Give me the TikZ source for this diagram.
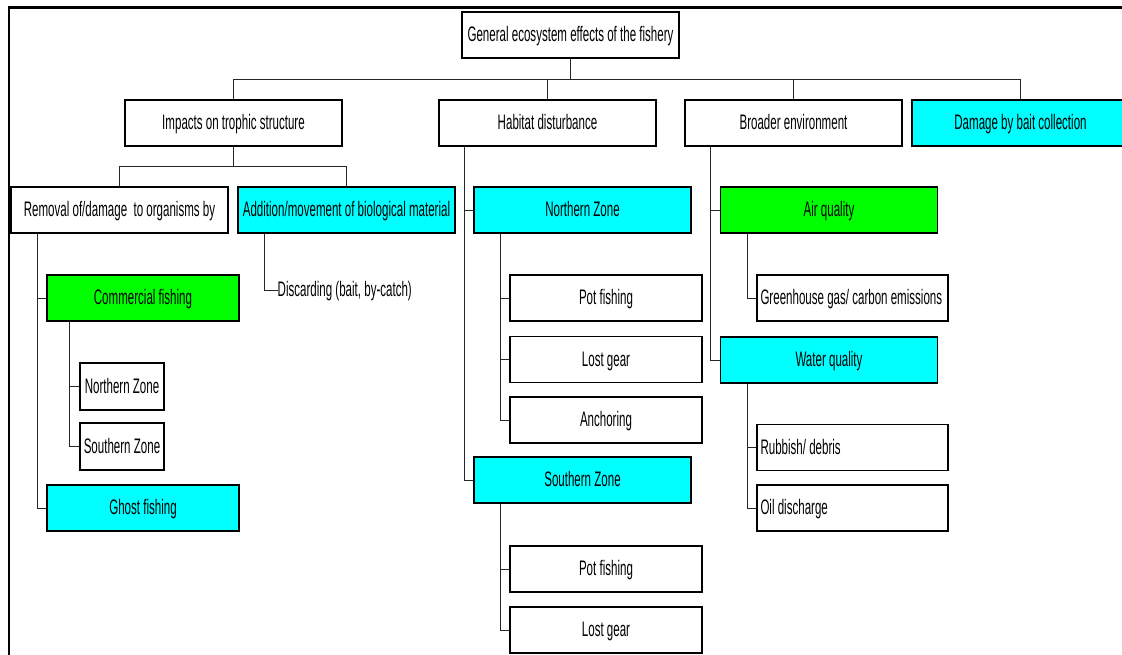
\documentclass[tikz,border=0pt]{standalone}
\usepackage{fontspec}
\setmainfont[FakeStretch=0.55]{Liberation Sans}
\definecolor{cy}{HTML}{00FFFF}
\definecolor{gr}{HTML}{00FF00}
\newcommand{\lbox}[1]{\makebox[184pt][l]{#1}}
\tikzset{
  bx/.style={draw=black, line width=1.3pt, inner sep=0pt, minimum height=46pt, minimum width=217pt, text height=16pt, text depth=3pt, font=\fontsize{21}{24}\selectfont},
  mid/.style={bx, minimum width=192pt},
  sml/.style={bx, minimum width=84pt, minimum height=47pt},
  lft/.style={bx, minimum width=191pt},
  cyb/.style={fill=cy},
  grb/.style={fill=gr},
  con/.style={draw=black!85, line width=0.9pt},
}
\begin{document}
\begin{tikzpicture}[x=1pt,y=-1pt]
\useasboundingbox (0,0) rectangle (1122,655);
\fill[white] (0,0) rectangle (1122,655);
\draw[line width=2.6pt] (9,660) -- (9,7.5) -- (1130,7.5);

% level 0
\node[bx] (root) at (570.5,35) {General ecosystem effects of the fishery};
% level 1
\node[bx] (imp) at (233.5,123) {Impacts on trophic structure};
\node[bx] (hab) at (547.5,123) {Habitat disturbance};
\node[bx] (brd) at (793.5,123) {Broader environment};
\node[bx,cyb] (dmg) at (1020.5,123) {Damage by bait collection};
% level 2
\node[bx] (rem) at (119.5,210) {Removal of/damage\ \ to organisms by};
\node[bx,cyb] (add) at (346.5,210) {Addition/movement of biological material};
\node[bx,cyb] (nz) at (582.5,210) {Northern Zone};
\node[bx,grb] (air) at (829,210) {Air quality};
\node[bx,cyb] (sz) at (582.5,480) {Southern Zone};
\node[bx,cyb] (wq) at (829,360) {Water quality};
% under removal
\node[mid,grb] (com) at (143,298) {Commercial fishing};
\node[mid,cyb] (gho) at (143,508) {Ghost fishing};
\node[sml] (cnz) at (122,386.5) {Northern Zone};
\node[sml] (csz) at (122,446.5) {Southern Zone};
% discarding
\node[inner sep=0pt, anchor=west, text height=16pt, text depth=3pt, font=\fontsize{21}{24}\selectfont] (dis) at (277.5,290) {Discarding (bait, by-catch)};
% habitat children
\node[mid] (pf1) at (606,298) {Pot fishing};
\node[mid] (lg1) at (606,359.5) {Lost gear};
\node[mid] (anc) at (606,420) {Anchoring};
\node[mid] (pf2) at (606,569) {Pot fishing};
\node[mid] (lg2) at (606,630) {Lost gear};
% environment children
\node[lft] (ghg) at (852.5,298) {\lbox{Greenhouse gas/ carbon emissions}};
\node[lft] (rub) at (852.5,447.5) {\lbox{Rubbish/ debris}};
\node[lft] (oil) at (852.5,508) {\lbox{Oil discharge}};

% connectors
\draw[con] (root.south) -- ++(0,21) coordinate (bus);
\draw[con] (bus) -| (imp.north);
\draw[con] (bus) -| (hab.north);
\draw[con] (bus) -| (brd.north);
\draw[con] (bus) -| (dmg.north);
\draw[con] (imp.south) -- ++(0,20) coordinate (bus2);
\draw[con] (bus2) -| (rem.north);
\draw[con] (bus2) -| (add.north);

\draw[con] (rem.south west) ++(27,0) |- (com.west);
\draw[con] (rem.south west) ++(27,0) |- (gho.west);
\draw[con] (com.south west) ++(23,0) |- (cnz.west);
\draw[con] (com.south west) ++(23,0) |- (csz.west);
\draw[con] (add.south west) ++(27.5,0) |- (dis.west);

\draw[con] (hab.south west) ++(26,0) |- (nz.west);
\draw[con] (hab.south west) ++(26,0) |- (sz.west);
\draw[con] (nz.south west) ++(27,0) |- (pf1.west);
\draw[con] (nz.south west) ++(27,0) |- (lg1.west);
\draw[con] (nz.south west) ++(27,0) |- (anc.west);
\draw[con] (sz.south west) ++(27.5,0) |- (pf2.west);
\draw[con] (sz.south west) ++(27.5,0) |- (lg2.west);

\draw[con] (brd.south west) ++(26,0) |- (air.west);
\draw[con] (brd.south west) ++(26,0) |- (wq.west);
\draw[con] (air.south west) ++(27.5,0) |- (ghg.west);
\draw[con] (wq.south west) ++(27.5,0) |- (rub.west);
\draw[con] (wq.south west) ++(27.5,0) |- (oil.west);
\end{tikzpicture}
\end{document}
